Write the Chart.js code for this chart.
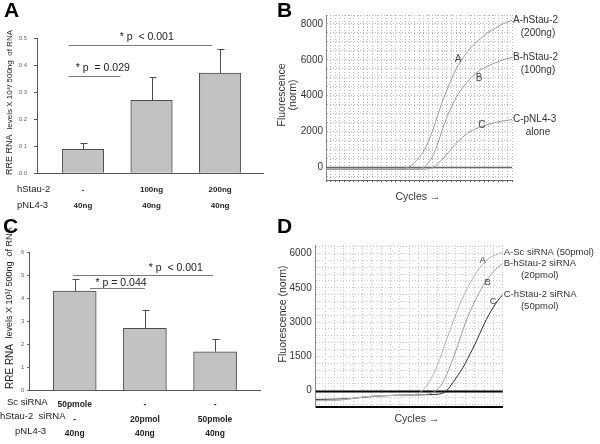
<!DOCTYPE html>
<html><head><meta charset="utf-8">
<script src="https://cdn.jsdelivr.net/npm/chart.js@4/dist/chart.umd.min.js"></script>
<style>
html,body{margin:0;padding:0;background:#fff;}
#wrap{position:relative;width:600px;height:444px;overflow:hidden;background:#fff;}
canvas{position:absolute;left:0;top:0;}
</style></head><body>
<div id="wrap">
<canvas id="cA" width="600" height="444"></canvas>
<canvas id="cB" width="600" height="444"></canvas>
<canvas id="cC" width="600" height="444"></canvas>
<canvas id="cD" width="600" height="444"></canvas>
</div>
<script>
// ---------- Panel A data ----------
const groupsA = [1, 2, 3];
const hStau2A = ['-', '100ng', '200ng'];
const pNL43A = ['40ng', '40ng', '40ng'];
const rnaA = [0.089, 0.270, 0.371];
const errA = [0.024, 0.088, 0.089];
const yTicksA = [0, 0.1, 0.2, 0.3, 0.4, 0.5];

// ---------- Panel C data ----------
const groupsC = [1, 2, 3];
const scSiC = ['50pmole', '-', '-'];
const hStau2SiC = ['-', '20pmol', '50pmole'];
const pNL43C = ['40ng', '40ng', '40ng'];
const rnaC = [4.32, 2.70, 1.69];
const errC = [0.51, 0.80, 0.56];
const yTicksC = [0, 1, 2, 3, 4, 5, 6];

// ---------- Panel B data (amplification curves) ----------
const cycles = [0,1,2,3,4,5,6,7,8,9,10,11,12,13,14,15,16,17,18,19,20,21,22,23,24,25,26,27,28,29,30,31,32,33,34,35,36,37,38,39,40];
const bCurveA = [-100,-100,-100,-100,-100,-100,-100,-100,-100,-100,-100,-100,-100,-100,-100,-100,-100,-60,50,250,550,900,1450,2100,2900,3650,4300,4950,5500,5950,6300,6650,6900,7150,7350,7550,7700,7850,8000,8100,8200];
const bCurveB = [-100,-100,-100,-100,-100,-100,-100,-100,-100,-100,-100,-100,-100,-100,-100,-100,-100,-100,-100,-100,-60,0,250,650,1300,2100,2800,3400,3900,4300,4650,4950,5200,5400,5550,5680,5800,5900,5990,6070,6150];
const bCurveC = [-100,-100,-100,-100,-100,-100,-100,-100,-100,-100,-100,-100,-100,-100,-100,-100,-100,-100,-100,-100,-100,-100,-80,0,200,450,750,1050,1350,1600,1820,2000,2130,2240,2330,2410,2480,2540,2590,2630,2670];
const bYTicks = [0, 2000, 4000, 6000, 8000];

// ---------- Panel D data ----------
const dCurveA = [-430,-425,-420,-415,-410,-400,-385,-360,-330,-300,-275,-255,-240,-228,-218,-210,-203,-197,-192,-187,-182,-170,-120,50,300,650,1100,1650,2250,2800,3350,3850,4300,4700,5050,5350,5600,5780,5900,5980,6050];
const dCurveB = [-440,-435,-430,-425,-418,-408,-392,-368,-338,-308,-282,-262,-246,-233,-222,-214,-207,-201,-196,-191,-186,-181,-176,-168,-150,-90,50,300,700,1200,1750,2350,2950,3450,3900,4300,4650,4950,5200,5400,5550];
const dCurveC = [-380,-378,-375,-372,-368,-362,-355,-345,-330,-312,-292,-272,-255,-240,-228,-218,-210,-203,-197,-192,-188,-184,-180,-176,-172,-166,-155,-120,0,250,550,850,1200,1600,2000,2450,2900,3300,3650,3950,4200];
const dYTicks = [0, 1500, 3000, 4500, 6000];

const FONT = "'Liberation Sans', Arial, Helvetica, sans-serif";
Chart.defaults.font.family = FONT;
Chart.defaults.animation = false;

function drawText(ctx, s, x, y, size, o) {
  o = o || {};
  ctx.save();
  ctx.font = (o.weight || 'normal') + ' ' + size + 'px ' + FONT;
  ctx.fillStyle = o.color || '#222';
  ctx.textAlign = o.align || 'left';
  ctx.textBaseline = o.baseline || 'middle';
  if (o.rotate) { ctx.translate(x, y); ctx.rotate(o.rotate); ctx.fillText(s, 0, 0); }
  else ctx.fillText(s, x, y);
  ctx.restore();
}
function drawYTitle(ctx, x, yBottom, parts) {
  ctx.save();
  ctx.translate(x, yBottom);
  ctx.rotate(-Math.PI / 2);
  ctx.fillStyle = '#222';
  ctx.textBaseline = 'middle';
  ctx.textAlign = 'left';
  let off = 0;
  parts.forEach(p => {
    ctx.font = p.size + 'px ' + FONT;
    ctx.fillText(p.text, off, 0);
    off += ctx.measureText(p.text).width;
  });
  ctx.restore();
}
function gridValues(from, to, step) {
  const out = [];
  for (let v = from; v <= to + 1e-9; v += step) out.push(Math.round(v * 1000) / 1000);
  return out;
}

// ---------- bar panel builder ----------
function makeBarPanel(id, p) {
  const deco = {
    id: 'deco' + id,
    afterDatasetsDraw(chart) {
      const ctx = chart.ctx, x = chart.scales.x, y = chart.scales.y;
      ctx.save();
      ctx.strokeStyle = '#4d4d4d'; ctx.lineWidth = 1;
      p.groups.forEach((g, i) => {
        const px = Math.round(x.getPixelForValue(g)) + 0.5;
        const y0 = y.getPixelForValue(p.values[i]);
        const y1 = Math.round(y.getPixelForValue(p.values[i] + p.errors[i])) + 0.5;
        ctx.beginPath();
        ctx.moveTo(px, y0); ctx.lineTo(px, y1);
        ctx.moveTo(px - 3, y1); ctx.lineTo(px + 4, y1);
        ctx.stroke();
      });
      ctx.strokeStyle = '#7a7a7a';
      p.sig.forEach(s => {
        const yy = Math.round(y.getPixelForValue(s.y)) + 0.5;
        ctx.beginPath();
        ctx.moveTo(x.getPixelForValue(s.x1), yy);
        ctx.lineTo(x.getPixelForValue(s.x2), yy);
        ctx.stroke();
        drawText(ctx, s.label, x.getPixelForValue(s.lx), y.getPixelForValue(s.ly), p.sigSize, {align: 'center', color: '#222'});
      });
      ctx.restore();
    },
    afterDraw(chart) {
      const ctx = chart.ctx;
      p.rowTitles.forEach(r => drawText(ctx, r.text, r.x, r.y, p.rowTitleSize, {color: '#222'}));
      drawYTitle(ctx, p.yTitle.x, p.yTitle.y, p.yTitle.parts);
      drawText(ctx, p.letter.text, p.letter.x, p.letter.y, 21, {weight: 'bold', color: '#000', baseline: 'alphabetic'});
    }
  };
  return new Chart(document.getElementById(id), {
    type: 'bar',
    data: {
      datasets: [{
        data: p.groups.map((g, i) => ({x: g, y: p.values[i]})),
        backgroundColor: '#c2c2c2', borderColor: '#4d4d4d', borderWidth: 1,
        barThickness: p.barW
      }]
    },
    options: {
      responsive: false, animation: false,
      layout: {padding: p.pad},
      plugins: {legend: {display: false}, tooltip: {enabled: false}},
      scales: {
        x: {
          type: 'linear', min: p.xmin, max: p.xmax, offset: false,
          afterFit(s) { s.height = p.xh; },
          afterBuildTicks(s) { s.ticks = p.groups.map(v => ({value: v})); },
          grid: {display: false},
          border: {display: true, color: '#555', width: 1},
          ticks: {
            padding: p.xpad, maxRotation: 0, minRotation: 0, autoSkip: false, color: '#222',
            font: {size: p.xfs, weight: 'bold', lineHeight: p.xlh + 'px'},
            callback: (v, i) => p.rows.map(r => r[i])
          }
        },
        y: {
          min: p.yTicks[0], max: p.yTicks[p.yTicks.length - 1],
          afterFit(s) { s.width = p.yw; },
          afterBuildTicks(s) { s.ticks = p.yTicks.map(v => ({value: v})); },
          ticks: {padding: p.ypad, color: '#666', autoSkip: false, font: {size: p.yfs}, callback: p.yfmt},
          grid: {drawOnChartArea: false, drawTicks: true, tickLength: p.ytl, color: '#555'},
          border: {display: true, color: '#555', width: 1}
        }
      }
    },
    plugins: [deco]
  });
}

// ---------- line panel builder ----------
function makeLinePanel(id, p) {
  const deco = {
    id: 'deco' + id,
    beforeDatasetsDraw(chart) {
      const ctx = chart.ctx, a = chart.chartArea, y = chart.scales.y;
      const yy = Math.round(y.getPixelForValue(0)) + 0.5;
      ctx.save();
      ctx.strokeStyle = p.thrColor; ctx.lineWidth = p.thrWidth;
      ctx.beginPath(); ctx.moveTo(a.left, yy); ctx.lineTo(a.right, yy); ctx.stroke();
      ctx.restore();
    },
    afterDraw(chart) {
      const ctx = chart.ctx, x = chart.scales.x, y = chart.scales.y;
      p.yTicks.forEach(v => drawText(ctx, String(v), y.left + y.width - p.ypad, y.getPixelForValue(v), 10, {align: 'right', color: '#333'}));
      p.series.forEach(s => {
        const lx = x.getPixelForValue(cycles[cycles.length - 1]) + 1;
        const ly = y.getPixelForValue(s.values[s.values.length - 1]);
        drawText(ctx, s.label, lx, ly, p.labelSize, {color: '#333'});
        if (s.sub) drawText(ctx, s.sub, lx + p.subDx, ly + p.subDy, p.labelSize, {color: '#333', align: 'center'});
        drawText(ctx, s.tag, x.getPixelForValue(s.tagAt[0]), y.getPixelForValue(s.tagAt[1]), p.labelSize, {color: '#444', align: 'center'});
      });
      p.yTitle.forEach(t => drawText(ctx, t.text, t.x, t.y, 10.5, {align: 'center', rotate: -Math.PI / 2, color: '#333'}));
      drawText(ctx, 'Cycles \u2192', p.cycles.x, p.cycles.y, 10.5, {align: 'center', color: '#333'});
      drawText(ctx, p.letter.text, p.letter.x, p.letter.y, 21, {weight: 'bold', color: '#000', baseline: 'alphabetic'});
    }
  };
  return new Chart(document.getElementById(id), {
    type: 'line',
    data: {
      datasets: p.series.map(s => ({
        data: cycles.map((c, i) => ({x: c, y: s.values[i]})),
        borderColor: s.color, borderWidth: 1, pointRadius: 0,
        cubicInterpolationMode: 'monotone', fill: false
      }))
    },
    options: {
      responsive: false, animation: false,
      layout: {padding: p.pad},
      plugins: {legend: {display: false}, tooltip: {enabled: false}},
      scales: {
        x: {
          type: 'linear', min: 0, max: 40,
          afterFit(s) { s.height = p.xh; },
          afterBuildTicks(s) { s.ticks = gridValues(0, 40, p.xstep).map(v => ({value: v})); },
          ticks: {display: false},
          grid: {color: p.gridColor, drawTicks: p.xTicks, tickLength: 2, tickColor: '#555'},
          border: {display: true, color: p.xBorderColor, width: p.xBorderWidth, dash: [1, 2]}
        },
        y: {
          min: p.ymin, max: p.ymax,
          afterFit(s) { s.width = p.yw; },
          afterBuildTicks(s) { s.ticks = gridValues(p.gridFrom, p.ymax, p.ystep).map(v => ({value: v})); },
          ticks: {display: false},
          grid: {color: p.gridColor, drawTicks: false},
          border: {display: true, color: '#888', width: 1, dash: [1, 2]}
        }
      }
    },
    plugins: [deco]
  });
}

// ---------- Panel A ----------
makeBarPanel('cA', {
  groups: groupsA, values: rnaA, errors: errA, yTicks: yTicksA,
  rows: [hStau2A, pNL43A],
  xmin: 0.33, xmax: 3.63, barW: 41.5,
  pad: {left: 12, right: 336.7, top: 38.3, bottom: 225.7},
  xh: 45, yw: 25, xpad: 0.5, xfs: 8, xlh: 16,
  ypad: 7, ytl: 3, yfs: 6, yfmt: v => Number(v).toFixed(1),
  sigSize: 10.5,
  sig: [
    {x1: 0.79, x2: 2.885, y: 0.475, label: '* p  < 0.001', lx: 1.93, ly: 0.505},
    {x1: 0.79, x2: 1.546, y: 0.36, label: '* p  = 0.029', lx: 1.29, ly: 0.39}
  ],
  rowTitleSize: 9.5,
  rowTitles: [{text: 'hStau-2', x: 17, y: 189}, {text: 'pNL4-3', x: 17, y: 205}],
  yTitle: {x: 10, y: 175, parts: [{text: 'RRE RNA  ', size: 9}, {text: 'levels X 10\u2074/ 500ng  of RNA', size: 8}]},
  letter: {text: 'A', x: 4, y: 17}
});

// ---------- Panel C ----------
makeBarPanel('cC', {
  groups: groupsC, values: rnaC, errors: errC, yTicks: yTicksC,
  rows: [scSiC, hStau2SiC, pNL43C],
  xmin: 0.353, xmax: 3.64, barW: 43,
  pad: {left: 9.3, right: 340, top: 252.3, bottom: 3.3},
  xh: 50, yw: 20, xpad: -1, xfs: 8.5, xlh: 14.5,
  ypad: 3, ytl: 2, yfs: 6, yfmt: v => String(v),
  sigSize: 10.5,
  sig: [
    {x1: 0.976, x2: 2.97, y: 5.0, label: '* p  < 0.001', lx: 2.44, ly: 5.33},
    {x1: 1.218, x2: 2.0, y: 4.465, label: '* p = 0.044', lx: 1.66, ly: 4.66}
  ],
  rowTitleSize: 9.5,
  rowTitles: [{text: 'Sc siRNA', x: 7, y: 402}, {text: 'hStau-2  siRNA', x: 0, y: 416}, {text: 'pNL4-3', x: 15, y: 431}],
  yTitle: {x: 10, y: 389, parts: [{text: 'RRE RNA  ', size: 10}, {text: 'levels X 10\u00b3/ 500ng  of RNA', size: 9}]},
  letter: {text: 'C', x: 3, y: 233}
});

// ---------- Panel B ----------
makeLinePanel('cB', {
  series: [
    {values: bCurveA, color: '#9a9a9a', label: 'A-hStau-2', sub: '(200ng)', tag: 'A', tagAt: [28.4, 6050]},
    {values: bCurveB, color: '#9a9a9a', label: 'B-hStau-2', sub: '(100ng)', tag: 'B', tagAt: [32.9, 4990]},
    {values: bCurveC, color: '#9a9a9a', label: 'C-pNL4-3', sub: 'alone', tag: 'C', tagAt: [33.5, 2380]}
  ],
  pad: {left: 286, right: 88, top: 15, bottom: 234},
  xh: 30, yw: 40, ypad: 3,
  ymin: -700, ymax: 8500, ystep: 500, gridFrom: -500, yTicks: bYTicks,
  xstep: 1, xTicks: true, gridColor: '#b8b8b8', xBorderColor: '#666', xBorderWidth: 1,
  thrColor: '#666', thrWidth: 1.5,
  labelSize: 10, subDx: 25, subDy: 13,
  yTitle: [{text: 'Fluorescence', x: 282, y: 95}, {text: '(norm)', x: 293, y: 95}],
  cycles: {x: 418, y: 197},
  letter: {text: 'B', x: 277, y: 17}
});

// ---------- Panel D ----------
makeLinePanel('cD', {
  series: [
    {values: dCurveA, color: '#b4b4b4', label: 'A-Sc siRNA (50pmol)', sub: null, tag: 'A', tagAt: [35.7, 5713]},
    {values: dCurveB, color: '#9a9a9a', label: 'B-hStau-2 siRNA', sub: '(20pmol)', tag: 'B', tagAt: [36.8, 4754]},
    {values: dCurveC, color: '#2a2a2a', label: 'C-hStau-2 siRNA', sub: '(50pmol)', tag: 'C', tagAt: [37.99, 3925]}
  ],
  pad: {left: 275.7, right: 97.3, top: 245, bottom: 17},
  xh: 20, yw: 40, ypad: 4,
  ymin: -711, ymax: 6370, ystep: 300, gridFrom: -600, yTicks: dYTicks,
  xstep: 2, xTicks: false, gridColor: '#c8c8c8', xBorderColor: '#000', xBorderWidth: 2,
  thrColor: '#000', thrWidth: 2,
  labelSize: 9.5, subDx: 36, subDy: 11.5,
  yTitle: [{text: 'Fluorescence (norm)', x: 283, y: 314}],
  cycles: {x: 417, y: 419},
  letter: {text: 'D', x: 277, y: 233}
});
</script>
</body></html>
